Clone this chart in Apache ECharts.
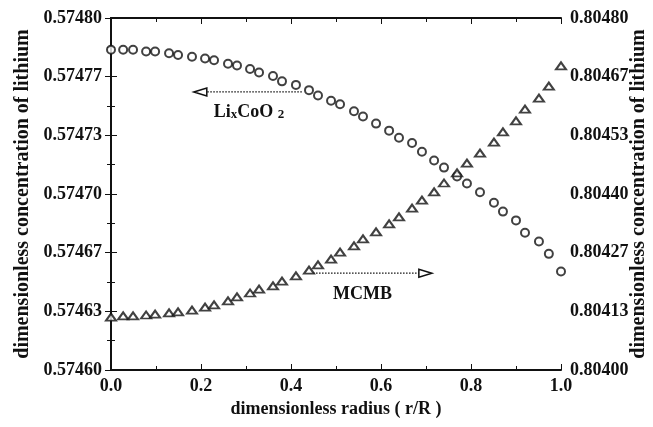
<!DOCTYPE html>
<html>
<head>
<meta charset="utf-8">
<script src="https://cdn.jsdelivr.net/npm/echarts@6/dist/echarts.min.js"></script>
<style>
  html, body { margin: 0; padding: 0; background: #fff; }
  #main { width: 653px; height: 427px; }
</style>
</head>
<body>
<div id="main"></div>
<script>
// radius positions (r/R)
var radius = [0, 0.027, 0.049, 0.078, 0.098, 0.129, 0.149, 0.180, 0.209, 0.229,
  0.260, 0.280, 0.309, 0.329, 0.360, 0.380, 0.411, 0.440, 0.460, 0.489,
  0.509, 0.540, 0.560, 0.589, 0.618, 0.640, 0.669, 0.691, 0.718, 0.740,
  0.769, 0.791, 0.820, 0.851, 0.871, 0.900, 0.920, 0.951, 0.973, 1.0];

// LixCoO2 (left axis)
var cathode = [0.574782, 0.574782, 0.574782, 0.574781, 0.574781, 0.574780, 0.574779, 0.574778, 0.574777, 0.574776,
  0.574774, 0.574773, 0.574771, 0.574769, 0.574767, 0.574764, 0.574762, 0.574759, 0.574756, 0.574753,
  0.574751, 0.574747, 0.574744, 0.574740, 0.574736, 0.574732, 0.574729, 0.574724, 0.574719, 0.574715,
  0.574710, 0.574706, 0.574701, 0.574695, 0.574690, 0.574685, 0.574678, 0.574673, 0.574666, 0.574656];

// MCMB (right axis)
var anode = [0.804120, 0.804123, 0.804123, 0.804125, 0.804127, 0.804130, 0.804132, 0.804136, 0.804143, 0.804148,
  0.804157, 0.804166, 0.804175, 0.804184, 0.804191, 0.804202, 0.804214, 0.804227, 0.804239, 0.804252,
  0.804268, 0.804282, 0.804298, 0.804314, 0.804332, 0.804348, 0.804368, 0.804386, 0.804405, 0.804425,
  0.804448, 0.804470, 0.804493, 0.804518, 0.804541, 0.804566, 0.804593, 0.804618, 0.804645, 0.804691];

var leftTicks = ['0.57460', '0.57463', '0.57467', '0.57470', '0.57473', '0.57477', '0.57480'];
var rightTicks = ['0.80400', '0.80413', '0.80427', '0.80440', '0.80453', '0.80467', '0.80480'];
var xTicks = ['0.0', '0.2', '0.4', '0.6', '0.8', '1.0'];

// annotation arrows, in data units (x, left-axis y)
var cathodeArrow = [[0.424, 0.574758], [0.184, 0.574758]];
var anodeArrow = [[0.449, 0.574655], [0.713, 0.574655]];

var font = 'Liberation Serif';
var ink = '#111';

function tickFormatter(labels, min, max) {
  return function (v) {
    var i = Math.round((v - min) / (max - min) * (labels.length - 1));
    return labels[i];
  };
}

var lMin = parseFloat(leftTicks[0]), lMax = parseFloat(leftTicks[leftTicks.length - 1]);
var rMin = parseFloat(rightTicks[0]), rMax = parseFloat(rightTicks[rightTicks.length - 1]);
var xMin = parseFloat(xTicks[0]), xMax = parseFloat(xTicks[xTicks.length - 1]);

var axisText = { fontFamily: font, fontWeight: 'bold', fontSize: 18, color: ink };
var yNameText = { fontFamily: font, fontWeight: 'bold', fontSize: 20, color: ink };
var xNameText = { fontFamily: font, fontWeight: 'bold', fontSize: 18, color: ink };
var lineStyle = { color: ink, width: 2 };

function yAxisCfg(pos, labels, min, max, name, gap) {
  return {
    type: 'value', position: pos, min: min, max: max,
    interval: (max - min) / (labels.length - 1),
    name: name, nameLocation: 'middle', nameGap: gap, nameRotate: 90,
    nameMoveOverlap: false,
    nameTextStyle: yNameText,
    axisLine: { show: true, lineStyle: lineStyle },
    axisTick: { show: true, inside: true, length: 6, lineStyle: { color: ink, width: 1 } },
    minorTick: { show: true, splitNumber: 2, length: 4, lineStyle: { color: ink, width: 1 } },
    axisLabel: Object.assign({ margin: 9, formatter: tickFormatter(labels, min, max) }, axisText),
    splitLine: { show: false }
  };
}

var option = {
  backgroundColor: '#fff',
  animation: false,
  grid: { left: 111, right: 92, top: 18, bottom: 57, outerBoundsMode: 'none', containLabel: false },
  xAxis: [{
    type: 'value', min: xMin, max: xMax, interval: 0.2,
    name: 'dimensionless radius ( r/R )', nameLocation: 'middle', nameGap: 30,
    nameMoveOverlap: false,
    nameTextStyle: xNameText,
    axisLine: { show: true, onZero: false, lineStyle: lineStyle },
    axisTick: { show: true, inside: true, length: 6, lineStyle: { color: ink, width: 1 } },
    minorTick: { show: true, splitNumber: 2, length: 4, lineStyle: { color: ink, width: 1 } },
    axisLabel: Object.assign({ margin: 7, formatter: tickFormatter(xTicks, xMin, xMax) }, axisText),
    splitLine: { show: false }
  }, {
    type: 'value', position: 'top', min: xMin, max: xMax, interval: 0.2,
    axisLine: { show: true, onZero: false, lineStyle: lineStyle },
    axisTick: { show: true, inside: true, length: 6, lineStyle: { color: ink, width: 1 } },
    minorTick: { show: true, splitNumber: 2, length: 4, lineStyle: { color: ink, width: 1 } },
    axisLabel: { show: false },
    splitLine: { show: false }
  }],
  yAxis: [
    yAxisCfg('left', leftTicks, lMin, lMax, 'dimensionless concentration of lithium', 78),
    yAxisCfg('right', rightTicks, rMin, rMax, 'dimensionless concentration of lithium', 68)
  ],
  series: [{
    name: 'LixCoO2', type: 'scatter', yAxisIndex: 0,
    symbol: 'emptyCircle', symbolSize: 8,
    itemStyle: { color: ink, borderColor: ink, borderWidth: 1 },
    data: radius.map(function (r, i) { return [r, cathode[i]]; })
  }, {
    name: 'MCMB', type: 'scatter', yAxisIndex: 1,
    symbol: 'emptyTriangle', symbolSize: [10, 7],
    itemStyle: { color: ink, borderColor: ink, borderWidth: 1 },
    data: radius.map(function (r, i) { return [r, anode[i]]; })
  }]
};

var myChart = echarts.init(document.getElementById('main'));
myChart.setOption(option);

// arrows + labels placed from data coords
function px(p) { return myChart.convertToPixel({ xAxisIndex: 0, yAxisIndex: 0 }, p); }
function arrow(a, dir) {
  var s = px(a[0]), e = px(a[1]);
  var head = 13;
  var lineEnd = [e[0] - dir * head, e[1]];
  return [{
    type: 'line', shape: { x1: s[0], y1: s[1], x2: lineEnd[0], y2: lineEnd[1] },
    style: { stroke: ink, lineWidth: 1.2, lineDash: [1.5, 1.5] }
  }, {
    type: 'polygon',
    shape: { points: [[e[0], e[1]], [lineEnd[0], e[1] - 4], [lineEnd[0], e[1] + 4]] },
    style: { fill: '#fff', stroke: ink, lineWidth: 1.5 }
  }];
}
var c0 = px(cathodeArrow[1]);
var a0 = px(anodeArrow[0]);
myChart.setOption({
  graphic: arrow(cathodeArrow, -1).concat(arrow(anodeArrow, 1)).concat([{
    type: 'text', x: c0[0] + 20, y: c0[1] + 10,
    style: {
      text: '{b|Li}{s|x}{b|CoO }{s|2}',
      rich: {
        b: { fontFamily: font, fontWeight: 'bold', fontSize: 18, fill: ink, verticalAlign: 'bottom' },
        s: { fontFamily: font, fontWeight: 'bold', fontSize: 13, fill: ink, padding: [6, 0, 0, 0], verticalAlign: 'bottom' }
      }
    }
  }, {
    type: 'text', x: a0[0] + 20, y: a0[1] + 12,
    style: { text: 'MCMB', fontFamily: font, fontWeight: 'bold', fontSize: 18, fill: ink }
  }])
});
</script>
</body>
</html>
